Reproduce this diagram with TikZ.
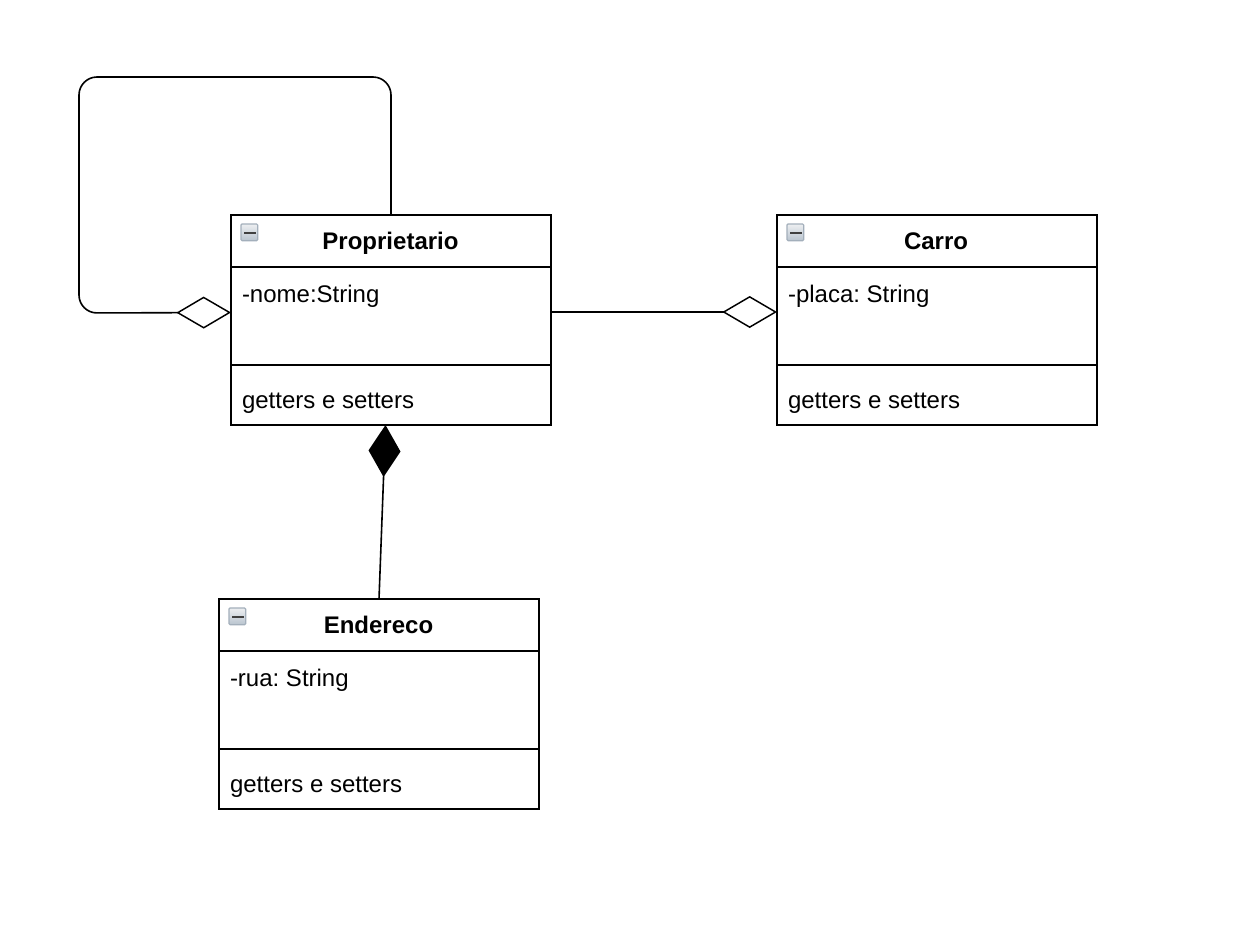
\documentclass[tikz,border=0pt]{standalone}
\usepackage{fontspec}
\setmainfont{Liberation Sans}
\usetikzlibrary{arrows.meta}
\definecolor{iconedge}{HTML}{A3AFBB}
\definecolor{icontop}{HTML}{EDEFF1}
\definecolor{iconbot}{HTML}{B9C4CF}
\tikzset{
  x=0.75pt,y=-0.75pt,
  every node/.style={inner sep=0pt,outer sep=0pt},
  classbox/.style={draw=black,line width=1.5pt,fill=white,minimum width=240pt,minimum height=157.5pt,anchor=north west},
  divider/.style={line width=1.5pt},
  titletext/.style={font=\fontsize{18pt}{20pt}\selectfont\bfseries\frenchspacing,anchor=base},
  membertext/.style={font=\fontsize{18pt}{20pt}\selectfont\frenchspacing,anchor=base west},
  icon/.style={draw=iconedge,line width=0.9pt,top color=icontop,bottom color=iconbot,rounded corners=0.8pt,minimum width=12.5pt,minimum height=12.5pt,anchor=north west},
  iconbar/.style={line width=1.8pt,draw=black!75},
  link/.style={line width=1.2pt,rounded corners=13.5pt},
  aggregation/.style={link,-{Diamond[open,fill=white,length=41pt,width=24pt,line width=1.1pt]}},
  composition/.style={line width=1.2pt,-{Diamond[fill=black,length=39pt,width=24pt]}}
}
\begin{document}
\begin{tikzpicture}
\useasboundingbox (0,0) rectangle (1246,932);
% Proprietario
\node[classbox] (prop) at (231,215) {};
\draw[divider] (231,267) -- (551,267) (231,365) -- (551,365);
\node[icon] (propicon) at (241,224) {};
\draw[iconbar] (244,233) -- (256,233);
\node[titletext] (proptitle) at (390.5,249) {Proprietario};
\node[membertext] (propattr) at (242,302) {-nome:String};
\node[membertext] (propmeth) at (242,408) {getters e setters};
% Carro
\node[classbox] (carro) at (777,215) {};
\draw[divider] (777,267) -- (1097,267) (777,365) -- (1097,365);
\node[icon] (carroicon) at (787,224) {};
\draw[iconbar] (790,233) -- (802,233);
\node[titletext] (carrotitle) at (936,249) {Carro};
\node[membertext] (carroattr) at (788,302) {-placa: String};
\node[membertext] (carrometh) at (788,408) {getters e setters};
% Endereco
\node[classbox] (end) at (219,599) {};
\draw[divider] (219,651) -- (539,651) (219,749) -- (539,749);
\node[icon] (endicon) at (229,608) {};
\draw[iconbar] (232,617) -- (244,617);
\node[titletext] (endtitle) at (378.5,633) {Endereco};
\node[membertext] (endattr) at (230,686) {-rua: String};
\node[membertext] (endmeth) at (230,792) {getters e setters};
% connector ends
\coordinate (loopTR) at (391,77);
\coordinate (loopTL) at (79,77);
\coordinate (loopBL) at (79,313);
\coordinate (propL) at (231,312.5);
\coordinate (propR) at (551,312);
\coordinate (carroL) at (777,312);
\coordinate (propB) at (385.5,425);
% connectors
\draw[aggregation] (prop.north) -- (loopTR) -- (loopTL) -- (loopBL) -- (propL);
\draw[aggregation] (propR) -- (carroL);
\draw[composition] (end.north) -- (propB);
\end{tikzpicture}
\end{document}
